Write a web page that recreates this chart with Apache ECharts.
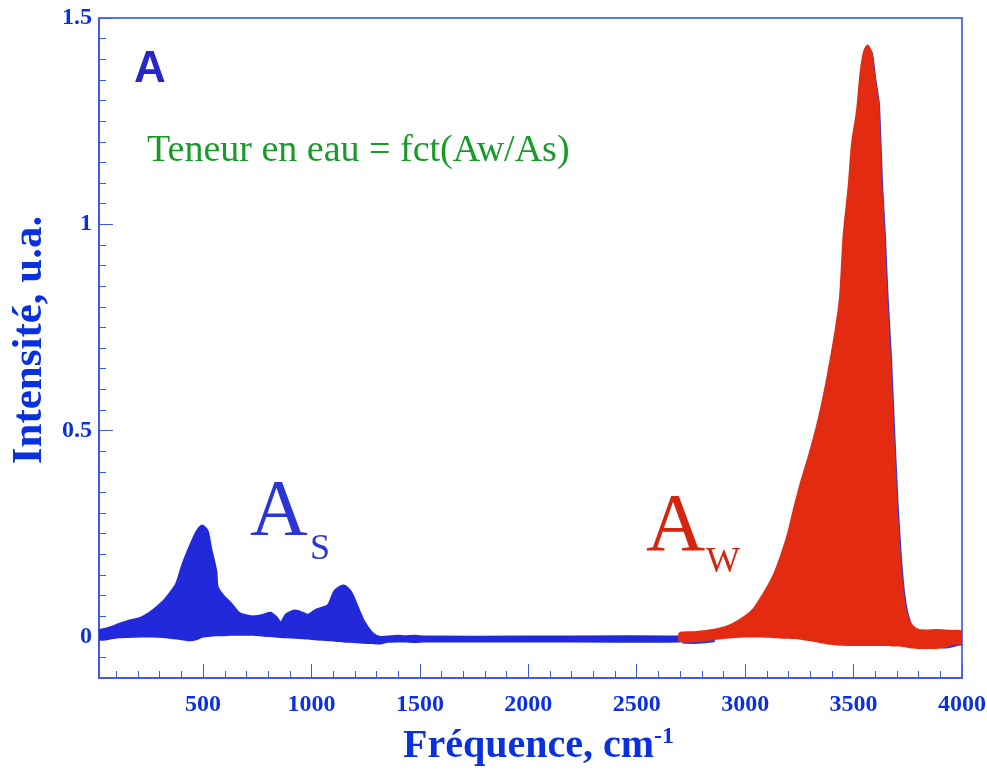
<!DOCTYPE html>
<html>
<head>
<meta charset="utf-8">
<script src="https://cdn.jsdelivr.net/npm/echarts@6/dist/echarts.min.js"></script>
<style>
html,body{margin:0;padding:0;background:#fff;}
#chart{width:987px;height:770px;}
</style>
</head>
<body>
<div id="chart"></div>
<script>
// ---------- data ----------
var blueX = [20, 40, 71, 110, 148, 209, 255, 317, 348, 380, 409, 440, 471, 494, 517, 532, 556, 563, 594, 625, 663, 700, 732, 779, 810, 833, 859, 887, 925, 963, 986, 1025, 1079, 1110, 1148, 1179, 1210, 1240, 1279, 1317, 1350, 1395, 1433, 1479, 1520, 2000, 2700];
var blueUpper = [0.013, 0.016, 0.020, 0.028, 0.035, 0.043, 0.056, 0.083, 0.103, 0.127, 0.174, 0.215, 0.251, 0.267, 0.255, 0.215, 0.160, 0.120, 0.096, 0.080, 0.056, 0.049, 0.047, 0.051, 0.056, 0.047, 0.031, 0.053, 0.061, 0.055, 0.051, 0.064, 0.075, 0.110, 0.122, 0.107, 0.070, 0.035, 0.007, -0.003, -0.002, 0.000, -0.001, 0.000, -0.002, -0.002, -0.002];
var blueLower = [-0.003, -0.005, -0.002, 0.001, 0.002, 0.003, 0.003, 0.002, 0.000, -0.002, -0.004, -0.006, -0.003, 0.002, 0.004, 0.005, 0.006, 0.006, 0.006, 0.007, 0.007, 0.007, 0.007, 0.005, 0.004, 0.003, 0.002, 0.001, 0.000, -0.001, -0.002, -0.004, -0.006, -0.007, -0.009, -0.010, -0.011, -0.012, -0.013, -0.014, -0.010, -0.009, -0.009, -0.010, -0.009, -0.009, -0.009];

var redX = [2700, 2760, 2820, 2880, 2940, 3000, 3040, 3080, 3110, 3140, 3170, 3200, 3230, 3260, 3300, 3340, 3380, 3420, 3440, 3456, 3480, 3495, 3518, 3534, 3549, 3564, 3580, 3595, 3611, 3618, 3626, 3638, 3649, 3665, 3680, 3695, 3710, 3725, 3740, 3760, 3780, 3800, 3840, 3880, 3920, 3960, 4000];
var redUpper = [0.008, 0.010, 0.013, 0.018, 0.029, 0.048, 0.066, 0.098, 0.125, 0.157, 0.200, 0.250, 0.315, 0.375, 0.445, 0.525, 0.625, 0.745, 0.825, 0.970, 1.095, 1.195, 1.275, 1.365, 1.415, 1.432, 1.415, 1.352, 1.295, 1.200, 1.088, 0.975, 0.830, 0.680, 0.500, 0.330, 0.200, 0.110, 0.060, 0.033, 0.020, 0.015, 0.014, 0.015, 0.014, 0.013, 0.012];
var redLower = [-0.009, -0.010, -0.007, -0.003, 0.000, 0.002, 0.002, 0.002, 0.001, 0.000, -0.001, -0.001, -0.002, -0.004, -0.007, -0.011, -0.015, -0.017, -0.018, -0.018, -0.019, -0.019, -0.019, -0.019, -0.019, -0.019, -0.019, -0.019, -0.019, -0.019, -0.019, -0.019, -0.019, -0.019, -0.020, -0.020, -0.020, -0.021, -0.022, -0.024, -0.025, -0.026, -0.026, -0.026, -0.023, -0.016, -0.014];

// blue spectrum visible under the red one (null = gap)
var blueUnderX = [2710, 2760, 2820, 2860, 2870, 3560, 3582, 3598, 3614, 3622, 3630, 3642, 3654, 3670, 3685, 3700, 3715, 3730, 3745, 3760, 3770, 3900, 3930, 3960, 4000];
var blueUnderY = [-0.013, -0.014, -0.012, -0.009, null, 1.430, 1.415, 1.352, 1.295, 1.200, 1.088, 0.975, 0.830, 0.680, 0.500, 0.330, 0.200, 0.110, 0.060, 0.033, null, -0.024, -0.025, -0.021, -0.017];

// ticks and labels
var xMinorTicks = [100, 200, 300, 400, 500, 600, 700, 800, 900, 1000, 1100, 1200, 1300, 1400, 1500, 1600, 1700, 1800, 1900, 2000, 2100, 2200, 2300, 2400, 2500, 2600, 2700, 2800, 2900, 3000, 3100, 3200, 3300, 3400, 3500, 3600, 3700, 3800, 3900, 4000];
var xMajorTicks = [500, 1000, 1500, 2000, 2500, 3000, 3500, 4000];
var xLabels = [500, 1000, 1500, 2000, 2500, 3000, 3500, 4000];
var yMinorTicks = [-0.1, -0.05, 0, 0.05, 0.1, 0.15, 0.2, 0.25, 0.3, 0.35, 0.4, 0.45, 0.5, 0.55, 0.6, 0.65, 0.7, 0.75, 0.8, 0.85, 0.9, 0.95, 1, 1.05, 1.1, 1.15, 1.2, 1.25, 1.3, 1.35, 1.4, 1.45, 1.5];
var yMajorTicks = [0, 0.5, 1, 1.5];
var yLabels = [0, 0.5, 1, 1.5];

// ---------- build ----------
function pairs(xs, ys) {
  var out = [];
  for (var i = 0; i < xs.length; i++) out.push([xs[i], ys[i]]);
  return out;
}
function bandRenderer(xs, lo, hi, color, lw) {
  return function (params, api) {
    var pts = [];
    for (var i = 0; i < xs.length; i++) pts.push(api.coord([xs[i], hi[i]]));
    for (var j = xs.length - 1; j >= 0; j--) pts.push(api.coord([xs[j], lo[j]]));
    return {
      type: 'polygon',
      shape: {points: pts, smooth: 0.25},
      style: {fill: color, stroke: color, lineWidth: lw, lineJoin: 'round'}
    };
  };
}

var BLUE = '#2129da';
var RED = '#e22b10';
var AXIS = '#3c5ae6';
var LABEL = '#0a30e0';
var SERIF = '"Liberation Serif", "Times New Roman", serif';

var chart = echarts.init(document.getElementById('chart'));

function xAx(extra) {
  return Object.assign({
    type: 'value', min: 20, max: 4000, position: 'bottom',
    splitLine: {show: false},
    axisLine: {show: true, onZero: false, lineStyle: {color: AXIS, width: 1.5}}
  }, extra);
}
function yAx(extra) {
  return Object.assign({
    type: 'value', min: -0.1, max: 1.5, position: 'left',
    splitLine: {show: false},
    axisLine: {show: true, onZero: false, lineStyle: {color: AXIS, width: 1.5}}
  }, extra);
}

chart.setOption({
  animation: false,
  backgroundColor: '#fff',
  grid: {left: 99, right: 25, top: 18, bottom: 92, containLabel: false, outerBoundsMode: 'none',
    show: true, borderColor: '#2a48e0', borderWidth: 1.5, backgroundColor: 'transparent'},
  xAxis: [
    xAx({
      axisTick: {show: true, inside: true, length: 7, customValues: xMinorTicks, lineStyle: {color: AXIS, width: 1}},
      axisLabel: {show: true, customValues: xLabels, margin: 15, color: LABEL, fontFamily: SERIF, fontWeight: 'bold', fontSize: 24,
        formatter: function (v) { return String(v); }},
      name: '{a|Fréquence, cm}{s|-1}',
      nameLocation: 'middle', nameGap: 47,
      nameTextStyle: {
        padding: [0, 0, 0, 16],
        rich: {
          a: {fontFamily: SERIF, fontWeight: 'bold', fontSize: 40, color: LABEL, lineHeight: 44},
          s: {fontFamily: SERIF, fontWeight: 'bold', fontSize: 24, color: LABEL, verticalAlign: 'top', lineHeight: 44}
        }
      }
    }),
    xAx({
      axisTick: {show: true, inside: true, length: 14, customValues: xMajorTicks, lineStyle: {color: AXIS, width: 1}},
      axisLabel: {show: false}
    })
  ],
  yAxis: [
    yAx({
      axisTick: {show: true, inside: true, length: 7, customValues: yMinorTicks, lineStyle: {color: AXIS, width: 1}},
      axisLabel: {show: true, customValues: yLabels, margin: 7, color: LABEL, fontFamily: SERIF, fontWeight: 'bold', fontSize: 24,
        formatter: function (v) { return String(v); }},
      name: 'Intensité, u.a.',
      nameLocation: 'middle', nameGap: 41, nameRotate: 90,
      nameTextStyle: {fontFamily: SERIF, fontWeight: 'bold', fontSize: 43, color: LABEL, padding: [0, 0, 0, 16]}
    }),
    yAx({
      axisTick: {show: true, inside: true, length: 14, customValues: yMajorTicks, lineStyle: {color: AXIS, width: 1}},
      axisLabel: {show: false}
    })
  ],
  series: [
    {
      type: 'custom', name: 'bleu', data: [[20, 0]], clip: true, z: 2,
      renderItem: bandRenderer(blueX, blueLower, blueUpper, BLUE, 4)
    },
    {
      type: 'line', name: 'bleu sous rouge', data: pairs(blueUnderX, blueUnderY),
      showSymbol: false, smooth: 0.2, connectNulls: false, z: 2,
      lineStyle: {color: '#1f3ee6', width: 3}
    },
    {
      type: 'custom', name: 'rouge', data: [[2700, 0]], clip: true, z: 3,
      renderItem: bandRenderer(redX, redLower, redUpper, RED, 3)
    }
  ],
  graphic: [
    {type: 'text', left: 134, top: 48, z: 10, style: {text: 'A', font: 'bold 44px "Liberation Sans", Arial, sans-serif', fill: '#2727c8'}},
    {type: 'text', x: 147, y: 151, z: 10, style: {text: 'Teneur en eau = fct(Aw/As)', font: '38px ' + SERIF, fill: '#179a2a', verticalAlign: 'middle', align: 'left'}},
    {type: 'text', x: 250, y: 514, z: 10, style: {text: 'A', font: '80px ' + SERIF, fill: '#2a35d6', verticalAlign: 'middle', align: 'left'}},
    {type: 'text', x: 310, y: 550, z: 10, style: {text: 'S', font: '36px ' + SERIF, fill: '#2a35d6', verticalAlign: 'middle', align: 'left'}},
    {type: 'text', x: 646, y: 528, z: 10, style: {text: 'A', font: '82px ' + SERIF, fill: '#d4260e', verticalAlign: 'middle', align: 'left'}},
    {type: 'text', x: 706, y: 563, z: 10, style: {text: 'W', font: '36px ' + SERIF, fill: '#d4260e', verticalAlign: 'middle', align: 'left'}}
  ]
});
</script>
</body>
</html>
